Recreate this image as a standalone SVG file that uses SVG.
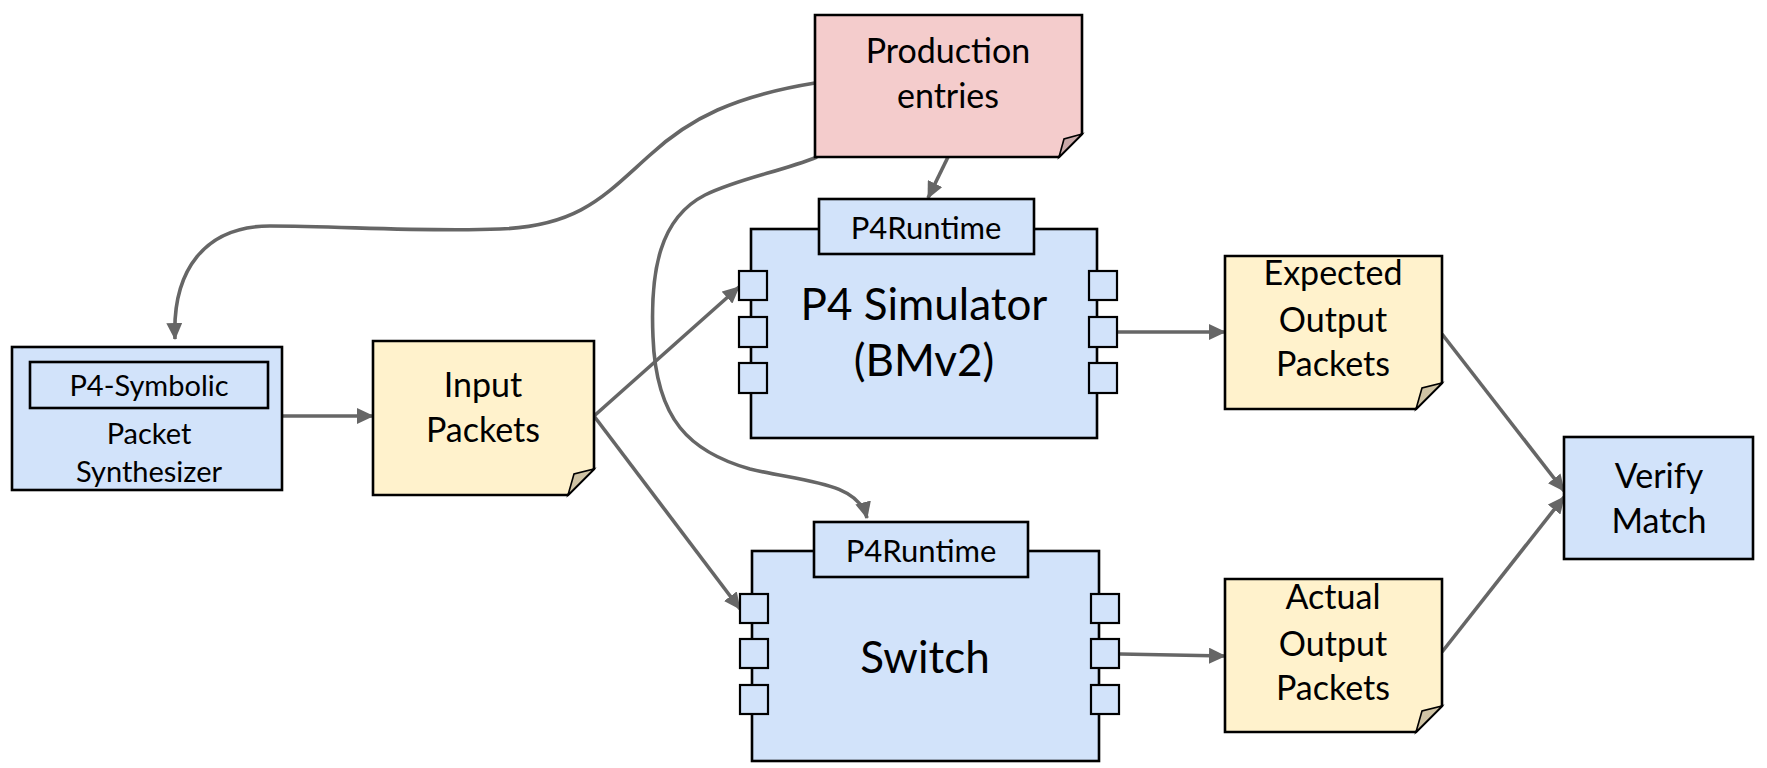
<svg xmlns="http://www.w3.org/2000/svg" width="1767" height="768" viewBox="0 0 1767 768">
  <style>
    .blue { fill: #d2e3fa; stroke: #000; stroke-width: 2.6; }
    .yellow { fill: #fff2cc; stroke: #000; stroke-width: 2.6; }
    .pink { fill: #f4cccc; stroke: #000; stroke-width: 2.6; }
    .fold-y { fill: #cfc3a4; stroke: #000; stroke-width: 1.6; }
    .fold-p { fill: #c9a9a9; stroke: #000; stroke-width: 1.6; }
    .port { fill: #d2e3fa; stroke: #000; stroke-width: 2.2; }
    .conn { fill: none; stroke: #666; stroke-width: 3.6; marker-end: url(#arrow); }
    text { font-family: Lato, "Open Sans", "Liberation Sans", sans-serif; fill: #000; text-anchor: middle; }
    .t-big { font-size: 44px; }
    .t-mid { font-size: 34px; }
    .t-tab { font-size: 31px; }
    .t-small { font-size: 29px; }
  </style>
  <defs>
    <marker id="arrow" markerUnits="userSpaceOnUse" markerWidth="17" markerHeight="16" refX="16" refY="8" orient="auto">
      <path d="M0,0 L17,8 L0,16 z" fill="#666"/>
    </marker>
  </defs>

  <rect width="1767" height="768" fill="#fff"/>

  <!-- connectors -->
  <g id="connectors">
    <path class="conn" d="M815,83 C735,96 690,118 650,155 C605,195 580,226 500,229 C420,232 340,226 270,226 C205,226 172,270 175,339"/>
    <path class="conn" d="M817,157 C780,172 740,178 705,195 C660,218 650,270 653,337 C656,420 690,452 750,469 C805,482 858,482 867,518"/>
    <path class="conn" d="M948,157 L928,198"/>
    <path class="conn" d="M282,416 L373,416"/>
    <path class="conn" d="M594,416 L739,287"/>
    <path class="conn" d="M594,416 L740,609"/>
    <path class="conn" d="M1118,332 L1225,332"/>
    <path class="conn" d="M1120,654 L1225,656"/>
    <path class="conn" d="M1442,334 L1564,491"/>
    <path class="conn" d="M1442,652 L1564,497"/>
  </g>

  <!-- table entries note -->
  <g id="production-entries">
    <path class="pink" d="M815,15 H1082 V134 L1059,157 H815 Z"/>
    <path class="fold-p" d="M1059,157 L1064,139 L1082,134 Z"/>
    <text class="t-mid" x="948" y="63">Production</text>
    <text class="t-mid" x="948" y="108">entries</text>
  </g>

  <!-- packet synthesizer -->
  <g id="p4-symbolic">
    <rect class="blue" x="12" y="347" width="270" height="143"/>
    <rect class="blue" x="30" y="362" width="238" height="46"/>
    <text class="t-small" x="149" y="396">P4-Symbolic</text>
    <text class="t-small" x="149" y="444">Packet</text>
    <text class="t-small" x="149" y="482">Synthesizer</text>
  </g>

  <g id="input-packets">
    <path class="yellow" d="M373,341 H594 V469 L568,495 H373 Z"/>
    <path class="fold-y" d="M568,495 L574,474 L594,469 Z"/>
    <text class="t-mid" x="483" y="397">Input</text>
    <text class="t-mid" x="483" y="442">Packets</text>
  </g>

  <!-- reference simulator -->
  <g id="p4-simulator">
    <rect class="blue" x="751" y="229" width="346" height="209"/>
    <rect class="blue" x="819" y="199" width="215" height="55"/>
    <text class="t-tab" x="926" y="239">P4Runtime</text>
    <rect class="port" x="739" y="271" width="28" height="29"/>
    <rect class="port" x="739" y="317" width="28" height="30"/>
    <rect class="port" x="739" y="363" width="28" height="30"/>
    <rect class="port" x="1089" y="271" width="28" height="29"/>
    <rect class="port" x="1089" y="317" width="28" height="30"/>
    <rect class="port" x="1089" y="363" width="28" height="30"/>
    <text class="t-big" x="924" y="320">P4 Simulator</text>
    <text class="t-big" x="924" y="376">(BMv2)</text>
  </g>

  <!-- device under test -->
  <g id="switch">
    <rect class="blue" x="752" y="551" width="347" height="210"/>
    <rect class="blue" x="814" y="522" width="214" height="55"/>
    <text class="t-tab" x="921" y="562">P4Runtime</text>
    <rect class="port" x="740" y="594" width="28" height="29"/>
    <rect class="port" x="740" y="639" width="28" height="29"/>
    <rect class="port" x="740" y="685" width="28" height="29"/>
    <rect class="port" x="1091" y="594" width="28" height="29"/>
    <rect class="port" x="1091" y="639" width="28" height="29"/>
    <rect class="port" x="1091" y="685" width="28" height="29"/>
    <text class="t-big" x="925" y="673">Switch</text>
  </g>

  <g id="expected-output">
    <path class="yellow" d="M1225,256 H1442 V383 L1416,409 H1225 Z"/>
    <path class="fold-y" d="M1416,409 L1422,388 L1442,383 Z"/>
    <text class="t-mid" x="1333" y="285">Expected</text>
    <text class="t-mid" x="1333" y="332">Output</text>
    <text class="t-mid" x="1333" y="376">Packets</text>
  </g>

  <g id="actual-output">
    <path class="yellow" d="M1225,579 H1442 V706 L1416,732 H1225 Z"/>
    <path class="fold-y" d="M1416,732 L1422,711 L1442,706 Z"/>
    <text class="t-mid" x="1333" y="609">Actual</text>
    <text class="t-mid" x="1333" y="656">Output</text>
    <text class="t-mid" x="1333" y="700">Packets</text>
  </g>

  <g id="verify-match">
    <rect class="blue" x="1564" y="437" width="189" height="122"/>
    <text class="t-mid" x="1659" y="488">Verify</text>
    <text class="t-mid" x="1659" y="533">Match</text>
  </g>
</svg>
